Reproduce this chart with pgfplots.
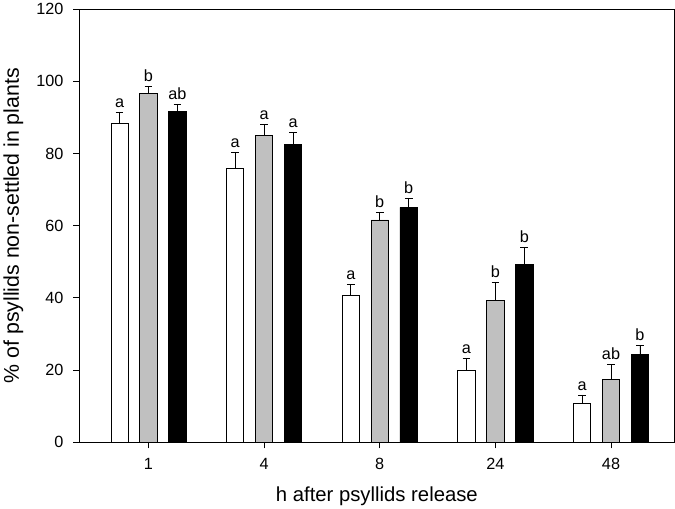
\documentclass[border=0pt]{standalone}
\usepackage{fontspec}
\setmainfont{Liberation Sans}
\usepackage{pgfplots}
\usepackage{pgfplotstable}
\pgfplotsset{compat=1.18}
\pgfplotstableread{
x y err top lab
-0.25 88.4 3.1 91.5 a
0.75 75.8 4.4 80.2 a
1.75 40.8 2.8 43.6 a
2.75 20.0 3.2 23.2 a
3.75 10.8 2.3 13.1 a
}\tabwhite
\pgfplotstableread{
x y err top lab
0 96.7 1.8 98.5 b
1 84.9 3.2 88.1 a
2 61.6 2.0 63.6 b
3 39.2 5.1 44.3 b
4 17.5 4.0 21.5 ab
}\tabgray
\pgfplotstableread{
x y err top lab
0.25 91.7 1.9 93.6 ab
1.25 82.5 3.4 85.9 a
2.25 65.1 2.5 67.6 b
3.25 49.2 4.7 53.9 b
4.25 24.3 2.6 26.9 b
}\tabblack
\definecolor{bargray}{RGB}{192,192,192}
\pgfplotsset{letters/.style={draw=none, mark=none, nodes near coords, point meta=explicit symbolic,
  every node near coord/.style={anchor=south, inner sep=1.5pt, yshift=3pt, font=\fontsize{16}{18}\selectfont}}}
\begin{document}
\begin{tikzpicture}
\begin{axis}[
  scale only axis,
  width=587pt, height=427pt,
  xmin=-0.6, xmax=4.55,
  ymin=0, ymax=120,
  xtick={0,1,2,3,4},
  xticklabels={1,4,8,24,48},
  ytick={0,20,...,120},
  xtick pos=bottom, ytick pos=left,
  tick align=outside,
  major tick length=6pt,
  axis line style={line width=0.8pt},
  every tick/.style={black, line width=0.8pt},
  /pgf/number format/assume math mode=true,
  tick label style={font=\fontsize{16}{18}\selectfont},
  yticklabel style={xshift=-6pt},
  xticklabel style={yshift=-6pt},
  xlabel={h after psyllids release},
  ylabel={\% of psyllids non-settled in plants},
  xlabel style={font=\fontsize{20}{22}\selectfont, yshift=-10pt},
  ylabel style={font=\fontsize{21}{23}\selectfont, yshift=6pt},
  error bars/y dir=plus,
  error bars/y explicit,
  error bars/error bar style={line width=0.8pt, black},
  error bars/error mark options={rotate=90, mark size=3.8pt, line width=0.8pt, black},
]
\addplot[ybar, bar width=0.15, bar shift=0pt, draw=black, line width=0.8pt, fill=white]
  table[x=x, y=y, y error=err] {\tabwhite};
\addplot[ybar, bar width=0.15, bar shift=0pt, draw=black, line width=0.8pt, fill=bargray]
  table[x=x, y=y, y error=err] {\tabgray};
\addplot[ybar, bar width=0.15, bar shift=0pt, draw=black, line width=0.8pt, fill=black]
  table[x=x, y=y, y error=err] {\tabblack};
\addplot[letters] table[x=x, y=top, meta=lab] {\tabwhite};
\addplot[letters] table[x=x, y=top, meta=lab] {\tabgray};
\addplot[letters] table[x=x, y=top, meta=lab] {\tabblack};
\end{axis}
\end{tikzpicture}
\end{document}
